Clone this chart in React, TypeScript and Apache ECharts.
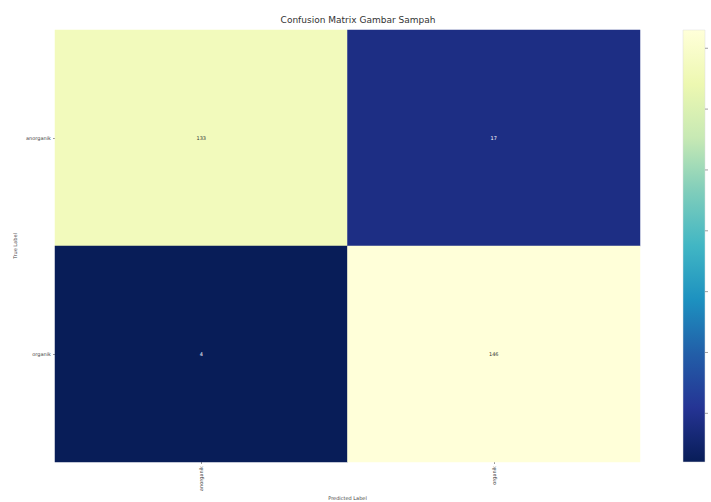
import React, { useEffect, useRef } from "react";
import * as echarts from "echarts";

const predictedLabels = ["anorganik", "organik"];
const trueLabels = ["anorganik", "organik"];
// rows: true label, cols: predicted label
const matrix = [
  [133, 17],
  [4, 146],
];
const colorTicks = [20, 40, 60, 80, 100, 120, 140];
const ylgnbu = ["#081d58", "#253494", "#225ea8", "#1d91c0", "#41b6c4", "#7fcdbb", "#c7e9b4", "#edf8b1", "#ffffd9"];

export default function App() {
  const ref = useRef<HTMLDivElement>(null);
  useEffect(() => {
    const chart = echarts.init(ref.current!, null, { renderer: "svg" });
    const flat = matrix.flat();
    const vmin = Math.min(...flat);
    const vmax = Math.max(...flat);
    const data: any[] = [];
    matrix.forEach((row, r) => {
      row.forEach((v, c) => {
        const dark = v < (vmin + vmax) / 2;
        data.push({
          value: [c, r, v],
          label: { color: dark ? "#ffffff" : "#333333" },
        });
      });
    });
    const top2bottom = ylgnbu.slice().reverse();
    const stops = top2bottom.map((c, i) => ({ offset: i / (top2bottom.length - 1), color: c }));
    chart.setOption({
      animation: false,
      backgroundColor: "#ffffff",
      title: {
        text: "Confusion Matrix Gambar Sampah",
        left: 353,
        top: 10,
        textAlign: "center",
        textStyle: { fontSize: 9, fontWeight: "normal", color: "#333", fontFamily: "DejaVu Sans" },
      },
      grid: [
        { left: 55, right: 71, top: 30, bottom: 40, outerBoundsMode: "none" },
        { left: 683, width: 22, top: 30, bottom: 40, outerBoundsMode: "none" },
      ],
      xAxis: [
        {
          type: "category",
          data: predictedLabels,
          gridIndex: 0,
          name: "Predicted Label",
          nameLocation: "middle",
          nameGap: 33,
          nameMoveOverlap: false,
          nameTextStyle: { fontSize: 5, color: "#444", fontFamily: "DejaVu Sans" },
          axisLine: { show: false },
          axisTick: { show: true, length: 2, alignWithLabel: true, lineStyle: { color: "#999" } },
          axisLabel: { rotate: 90, fontSize: 5, color: "#444", margin: 4, fontFamily: "DejaVu Sans" },
          splitLine: { show: false },
        },
        {
          type: "value",
          gridIndex: 1,
          min: 0,
          max: 1,
          show: false,
        },
      ],
      yAxis: [
        {
          type: "category",
          data: trueLabels,
          inverse: true,
          gridIndex: 0,
          name: "True Label",
          nameLocation: "middle",
          nameGap: 38,
          nameMoveOverlap: false,
          nameTextStyle: { fontSize: 5, color: "#444", fontFamily: "DejaVu Sans" },
          axisLine: { show: false },
          axisTick: { show: true, length: 2, alignWithLabel: true, lineStyle: { color: "#999" } },
          axisLabel: { fontSize: 5, color: "#444", margin: 4, fontFamily: "DejaVu Sans" },
          splitLine: { show: false },
        },
        {
          type: "value",
          gridIndex: 1,
          min: vmin,
          max: vmax,
          show: false,
        },
      ],
      visualMap: {
        type: "continuous",
        min: vmin,
        max: vmax,
        show: false,
        seriesIndex: 0,
        inRange: { color: ylgnbu },
      },
      series: [
        {
          type: "heatmap",
          xAxisIndex: 0,
          yAxisIndex: 0,
          data,
          label: { show: true, fontSize: 5, fontFamily: "DejaVu Sans" },
          itemStyle: { borderWidth: 0 },
          emphasis: { disabled: true },
        },
        {
          type: "custom",
          xAxisIndex: 1,
          yAxisIndex: 1,
          data: [[0, vmin]],
          silent: true,
          renderItem: (params: any) => {
            const cs = params.coordSys;
            return {
              type: "rect",
              shape: { x: cs.x, y: cs.y, width: cs.width, height: cs.height },
              style: {
                fill: new echarts.graphic.LinearGradient(0, 0, 0, 1, stops),
                stroke: "#dddddd",
                lineWidth: 0.5,
              },
            };
          },
        },
        {
          type: "custom",
          xAxisIndex: 1,
          yAxisIndex: 1,
          data: colorTicks.map((t) => [1, t]),
          silent: true,
          renderItem: (params: any, api: any) => {
            const p = api.coord([1, api.value(1)]);
            return {
              type: "line",
              shape: { x1: p[0], y1: p[1], x2: p[0] + 3, y2: p[1] },
              style: { stroke: "#888", lineWidth: 0.8 },
            };
          },
        },
      ],
    });
    return () => chart.dispose();
  }, []);
  return <div ref={ref} style={{ width: 711, height: 502, position: "fixed", left: 0, top: 0 }} />;
}
